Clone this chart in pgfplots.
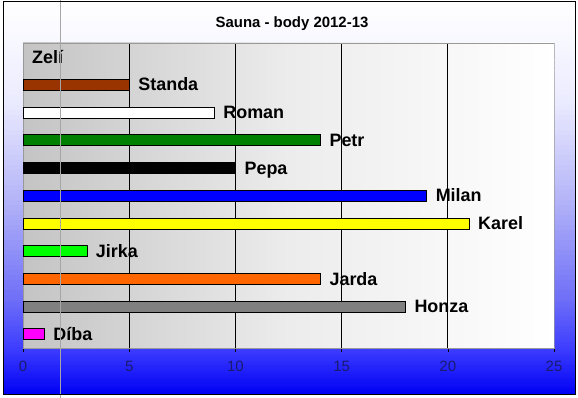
\documentclass[border=0pt]{standalone}
\usepackage{pgfplots}
\pgfplotsset{compat=1.18}
\usepackage{fontspec}
\setmainfont{Liberation Sans}
\definecolor{cStanda}{HTML}{993300}
\definecolor{cPetr}{HTML}{008000}
\definecolor{cMilan}{HTML}{0000FF}
\definecolor{cKarel}{HTML}{FFFF00}
\definecolor{cJirka}{HTML}{00FF00}
\definecolor{cJarda}{HTML}{FF6600}
\definecolor{cHonza}{HTML}{808080}
\definecolor{cDiba}{HTML}{FF00FF}
\definecolor{tickblue}{HTML}{1A1A70}
\definecolor{bg0}{RGB}{255,255,255}
\definecolor{bg1}{RGB}{236,236,255}
\definecolor{bg2}{RGB}{180,180,248}
\definecolor{bg3}{RGB}{110,110,248}
\definecolor{bg4}{RGB}{60,60,255}
\definecolor{bg5}{RGB}{0,0,245}
\definecolor{pb0}{RGB}{196,196,196}
\definecolor{pb1}{RGB}{217,217,217}
\definecolor{pb2}{RGB}{236,236,236}
\definecolor{pb3}{RGB}{248,248,248}
\definecolor{pb4}{RGB}{255,255,255}
\newcommand\bgbands[2]{%
\foreach \ya/\yb/\ca/\cb in {396/298/bg0/bg1, 298/198/bg1/bg2, 198/98/bg2/bg3, 98/48/bg3/bg4, 48/3/bg4/bg5} {
  \foreach \i in {0,...,19} {
    \pgfmathsetmacro\yt{\ya-(\ya-\yb)*\i/20+0.3}
    \pgfmathsetmacro\yl{\ya-(\ya-\yb)*(\i+1)/20}
    \pgfmathsetmacro\pp{100-(\i+0.5)*5}
    \fill[\ca!\pp!\cb] (#1 bp,\yl bp) rectangle (#2 bp,\yt bp);
  }
}}
\begin{document}
\begin{tikzpicture}
\useasboundingbox (0,0) rectangle (578bp,398bp);
\bgbands{3}{575}
\node[anchor=base, font=\bfseries\fontsize{15}{15}\selectfont] at (292bp,370bp) {Sauna - body 2012-13};
\begin{axis}[
  at={(23bp,50bp)}, anchor=south west,
  scale only axis, width=531bp, height=305bp,
  xbar, bar width=11bp, bar shift=0pt,
  xmin=0, xmax=25, ymin=-0.5, ymax=10.5,
  xtick={0,5,10,15,20,25}, ytick=\empty,
  xtick pos=bottom, tick align=outside, major tick length=4bp,
  tick style={black, line width=0.6bp},
  xmajorgrids, grid style={black, line width=0.8bp},
  axis line style={draw=gray!80, line width=0.8bp},
  axis background/.style={left color=pb0, right color=pb4, middle color=pb2},
  /pgf/number format/assume math mode=true,
  xticklabel style={font=\fontsize{15}{15}\selectfont, text=tickblue, yshift=-6bp},
  point meta=explicit symbolic,
  nodes near coords,
  nodes near coords style={anchor=base west, inner sep=0pt, xshift=9bp, yshift=-6.4bp, text=black, font=\bfseries\fontsize{18}{18}\selectfont},
]
\addplot[draw=none, fill=none] coordinates {(0,10) [Zelí]};
\addplot[draw=black, fill=cStanda] coordinates {(5,9) [Standa]};
\addplot[draw=black, fill=white] coordinates {(9,8) [Roman]};
\addplot[draw=black, fill=cPetr] coordinates {(14,7) [Petr]};
\addplot[draw=black, fill=black] coordinates {(10,6) [Pepa]};
\addplot[draw=black, fill=cMilan] coordinates {(19,5) [Milan]};
\addplot[draw=black, fill=cKarel] coordinates {(21,4) [Karel]};
\addplot[draw=black, fill=cJirka] coordinates {(3,3) [Jirka]};
\addplot[draw=black, fill=cJarda] coordinates {(14,2) [Jarda]};
\addplot[draw=black, fill=cHonza] coordinates {(18,1) [Honza]};
\addplot[draw=black, fill=cDiba] coordinates {(1,0) [Díba]};
\draw[black, line width=0.8bp] (rel axis cs:0,0) -- (rel axis cs:1,0);
\end{axis}
\begin{scope}
\clip (3bp,51bp) rectangle (22.5bp,355bp) (554.6bp,51bp) rectangle (575bp,355bp);
\bgbands{3}{575}
\end{scope}
\draw[black!35, line width=1bp] (60bp,0bp) -- (60bp,398bp);
\draw[black, line width=1bp] (3bp,3bp) rectangle (575bp,396bp);
\end{tikzpicture}
\end{document}
